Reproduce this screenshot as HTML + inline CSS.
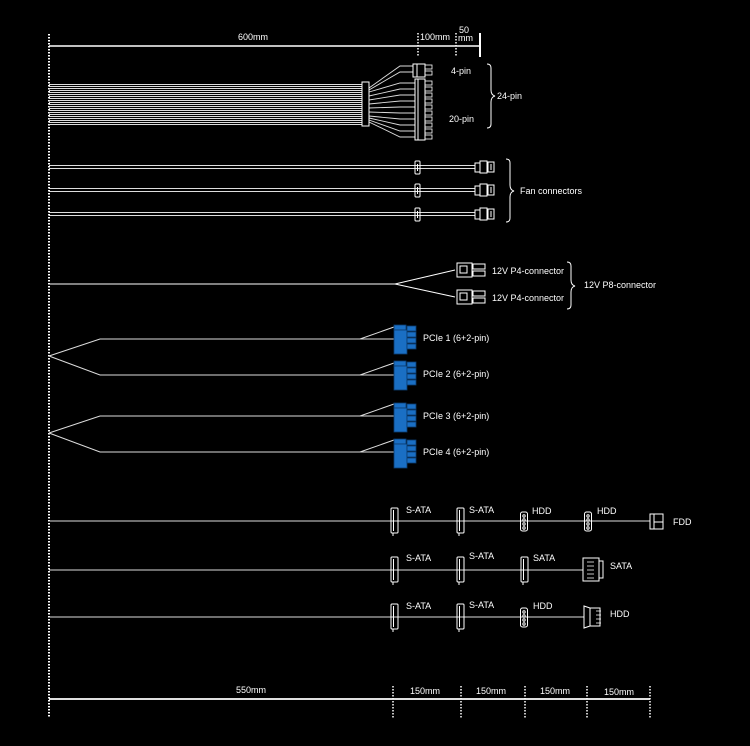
<!DOCTYPE html>
<html><head><meta charset="utf-8"><style>
html,body{margin:0;padding:0;background:#000;}
svg{display:block;}
text{font-family:"Liberation Sans",sans-serif;fill:#fff;font-size:9px;}
</style></head><body>
<svg width="750" height="746" viewBox="0 0 750 746" xmlns="http://www.w3.org/2000/svg">
<defs>
<g id="pcie">
<rect x="0" y="0" width="12" height="5" fill="#1a6fc4" stroke="#0a3d70" stroke-width="0.8"/>
<rect x="0" y="5" width="13" height="24" fill="#1a6fc4" stroke="#0a3d70" stroke-width="0.8"/>
<rect x="13" y="1" width="9" height="5" fill="#1a6fc4" stroke="#0a3d70" stroke-width="0.8"/>
<rect x="13" y="7" width="9" height="5" fill="#1a6fc4" stroke="#0a3d70" stroke-width="0.8"/>
<rect x="13" y="13" width="9" height="5" fill="#1a6fc4" stroke="#0a3d70" stroke-width="0.8"/>
<rect x="13" y="19" width="9" height="5" fill="#1a6fc4" stroke="#0a3d70" stroke-width="0.8"/>
</g>
<g id="sata" fill="none" stroke="#fff" stroke-width="1">
<rect x="-4" y="-13" width="7" height="25" rx="1"/>
<line x1="-1.5" y1="-11" x2="-1.5" y2="10"/>
<line x1="-2" y1="12" x2="-2" y2="15"/>
</g>
<g id="molex" fill="none" stroke="#fff" stroke-width="1">
<rect x="-3.5" y="-9" width="7" height="19" rx="2"/>
<circle cx="0" cy="-5" r="1.2"/><circle cx="0" cy="-1" r="1.2"/><circle cx="0" cy="3" r="1.2"/><circle cx="0" cy="7" r="1.2"/>
</g>
<g id="fanc" fill="none" stroke="#fff" stroke-width="1">
<rect x="-2" y="-6" width="5" height="13" rx="1"/>
<line x1="0.5" y1="-3" x2="0.5" y2="4"/>
</g>
<g id="fanend" fill="none" stroke="#fff" stroke-width="1">
<path d="M0,-4 h5 v9 h-5 z"/>
<rect x="5" y="-6" width="7" height="12"/>
<rect x="13" y="-5" width="6" height="10"/>
<line x1="16" y1="-3" x2="16" y2="3"/>
</g>
<g id="p4" fill="none" stroke="#fff" stroke-width="1">
<rect x="0" y="-7" width="15" height="14"/>
<rect x="3" y="-4" width="7" height="7"/>
<rect x="16" y="-6" width="12" height="5"/>
<rect x="16" y="1" width="12" height="5"/>
</g>
</defs>

<line x1="49" y1="34" x2="49" y2="718" stroke="#fff" stroke-width="2" stroke-dasharray="1.5,1.5"/>

<line x1="49" y1="46" x2="480" y2="46" stroke="#fff" stroke-width="1.5"/>
<line x1="418" y1="33" x2="418" y2="56" stroke="#fff" stroke-width="1.5" stroke-dasharray="1.5,1.5"/>
<line x1="456" y1="33" x2="456" y2="56" stroke="#fff" stroke-width="1.5" stroke-dasharray="1.5,1.5"/>
<line x1="480" y1="33" x2="480" y2="57" stroke="#fff" stroke-width="2"/>
<text x="238" y="40">600mm</text>
<text x="420" y="40">100mm</text>
<text x="459" y="33">50</text>
<text x="458" y="41">mm</text>

<g stroke="#ddd" stroke-width="1" shape-rendering="crispEdges">
<path d="M49,84.5H362M49,86.5H362M49,88.5H362M49,90.5H362M49,92.5H362M49,94.5H362M49,96.5H362M49,98.5H362M49,100.5H362M49,102.5H362M49,104.5H362M49,106.5H362M49,108.5H362M49,110.5H362M49,112.5H362M49,114.5H362M49,116.5H362M49,118.5H362M49,120.5H362M49,122.5H362M49,124.5H362"/>
</g>
<g stroke="#ddd" stroke-width="0.9">
<path fill="none" d="M369,88L400,66H413M369,90L400,72H413M369,92L400,83H416M369,96L400,89H416M369,100L400,95H416M369,104L400,101H416M369,108L400,107H416M369,112L400,113H416M369,116L400,119H416M369,118L400,125H416M369,120L400,131H416M369,122L400,137H416"/>
</g>
<rect x="362" y="82" width="7" height="44" fill="#000" stroke="#fff" stroke-width="1"/>
<rect x="413" y="64" width="12" height="13" fill="#000" stroke="#fff" stroke-width="1"/>
<line x1="417" y1="64" x2="417" y2="77" stroke="#fff"/>
<rect x="425" y="65" width="7" height="4" fill="none" stroke="#fff" stroke-width="0.8"/>
<rect x="425" y="71" width="7" height="4" fill="none" stroke="#fff" stroke-width="0.8"/>
<rect x="415" y="79" width="10" height="61" fill="#000" stroke="#fff" stroke-width="1"/>
<line x1="418" y1="79" x2="418" y2="140" stroke="#fff"/>
<g fill="none" stroke="#fff" stroke-width="0.8">
<rect x="425" y="81" width="7" height="4"/><rect x="425" y="87" width="7" height="4"/><rect x="425" y="93" width="7" height="4"/><rect x="425" y="99" width="7" height="4"/><rect x="425" y="105" width="7" height="4"/><rect x="425" y="111" width="7" height="4"/><rect x="425" y="117" width="7" height="4"/><rect x="425" y="123" width="7" height="4"/><rect x="425" y="129" width="7" height="4"/><rect x="425" y="135" width="7" height="4"/>
</g>
<text x="451" y="74">4-pin</text>
<text x="449" y="122">20-pin</text>
<path d="M487,64 q4,0 4,4 v22 q0,5 4,6 q-4,1 -4,6 v22 q0,4 -4,4" fill="none" stroke="#fff" stroke-width="1"/>
<text x="497" y="99">24-pin</text>

<g stroke="#ddd" stroke-width="1" shape-rendering="crispEdges">
<path d="M49,165.5H475M49,168.5H475M49,188.5H475M49,191.5H475M49,212.5H475M49,215.5H475"/>
</g>
<use href="#fanc" x="417" y="167"/><use href="#fanc" x="417" y="190"/><use href="#fanc" x="417" y="214"/>
<use href="#fanend" x="475" y="167"/><use href="#fanend" x="475" y="190"/><use href="#fanend" x="475" y="214"/>
<path d="M506,159 q4,0 4,4 v22 q0,5 4,6 q-4,1 -4,6 v21 q0,4 -4,4" fill="none" stroke="#fff" stroke-width="1"/>
<text x="520" y="194">Fan connectors</text>

<path d="M49,284H395L455,270M395,284L455,297" fill="none" stroke="#fff" stroke-width="1"/>
<use href="#p4" x="457" y="270"/><use href="#p4" x="457" y="297"/>
<text x="492" y="274">12V P4-connector</text>
<text x="492" y="301">12V P4-connector</text>
<path d="M567,262 q4,0 4,4 v14 q0,5 4,6 q-4,1 -4,6 v13 q0,4 -4,4" fill="none" stroke="#fff" stroke-width="1"/>
<text x="584" y="288">12V P8-connector</text>

<g fill="none" stroke="#ddd" stroke-width="1">
<path d="M49,356L100,339H394M49,356L100,375H394M360,339L394,327M360,375L394,363"/>
<path d="M49,433L100,416H394M49,433L100,452H394M360,416L394,404M360,452L394,440"/>
</g>
<use href="#pcie" x="394" y="325"/>
<use href="#pcie" x="394" y="361"/>
<use href="#pcie" x="394" y="403"/>
<use href="#pcie" x="394" y="439"/>
<text x="423" y="341">PCIe 1 (6+2-pin)</text>
<text x="423" y="377">PCIe 2 (6+2-pin)</text>
<text x="423" y="419">PCIe 3 (6+2-pin)</text>
<text x="423" y="455">PCIe 4 (6+2-pin)</text>

<g stroke="#ddd" stroke-width="1">
<line x1="49" y1="521" x2="650" y2="521"/>
<line x1="49" y1="570" x2="584" y2="570"/>
<line x1="49" y1="617" x2="584" y2="617"/>
</g>
<use href="#sata" x="395" y="521"/><use href="#sata" x="461" y="521"/>
<use href="#molex" x="524" y="521"/><use href="#molex" x="588" y="521"/>
<g fill="#000" stroke="#fff" stroke-width="1"><rect x="650" y="514" width="13" height="15"/><path d="M654,514v8h9M654,522v7" fill="none"/></g>
<text x="406" y="513">S-ATA</text><text x="469" y="513">S-ATA</text><text x="532" y="514">HDD</text><text x="597" y="514">HDD</text><text x="673" y="525">FDD</text>

<use href="#sata" x="395" y="570"/><use href="#sata" x="461" y="570"/><use href="#sata" x="525" y="570"/>
<g fill="#000" stroke="#fff" stroke-width="1"><rect x="583" y="558" width="16" height="23"/><rect x="599" y="561" width="4" height="17"/>
<path d="M587,562h7M587,566h7M587,570h7M587,574h7M587,578h7" fill="none" stroke-width="0.8"/></g>
<text x="406" y="561">S-ATA</text><text x="469" y="559">S-ATA</text><text x="533" y="561">SATA</text><text x="610" y="569">SATA</text>

<use href="#sata" x="395" y="617"/><use href="#sata" x="461" y="617"/><use href="#molex" x="524" y="617"/>
<g fill="#000" stroke="#fff" stroke-width="1"><path d="M584,606 l6,2 v18 l-6,2 z"/><rect x="590" y="608" width="10" height="18"/>
<path d="M596,611h5M596,615h5M596,619h5M596,623h5" fill="none" stroke-width="0.8"/></g>
<text x="406" y="609">S-ATA</text><text x="469" y="608">S-ATA</text><text x="533" y="609">HDD</text><text x="610" y="617">HDD</text>

<line x1="49" y1="699" x2="650" y2="699" stroke="#fff" stroke-width="1.8"/>
<g stroke="#fff" stroke-width="1.5" stroke-dasharray="1.5,1.5">
<line x1="393" y1="686" x2="393" y2="718"/><line x1="461" y1="686" x2="461" y2="718"/><line x1="525" y1="686" x2="525" y2="718"/><line x1="587" y1="686" x2="587" y2="718"/><line x1="650" y1="686" x2="650" y2="718"/>
</g>
<text x="236" y="693">550mm</text>
<text x="410" y="694">150mm</text><text x="476" y="694">150mm</text><text x="540" y="694">150mm</text><text x="604" y="695">150mm</text>
</svg>
</body></html>
